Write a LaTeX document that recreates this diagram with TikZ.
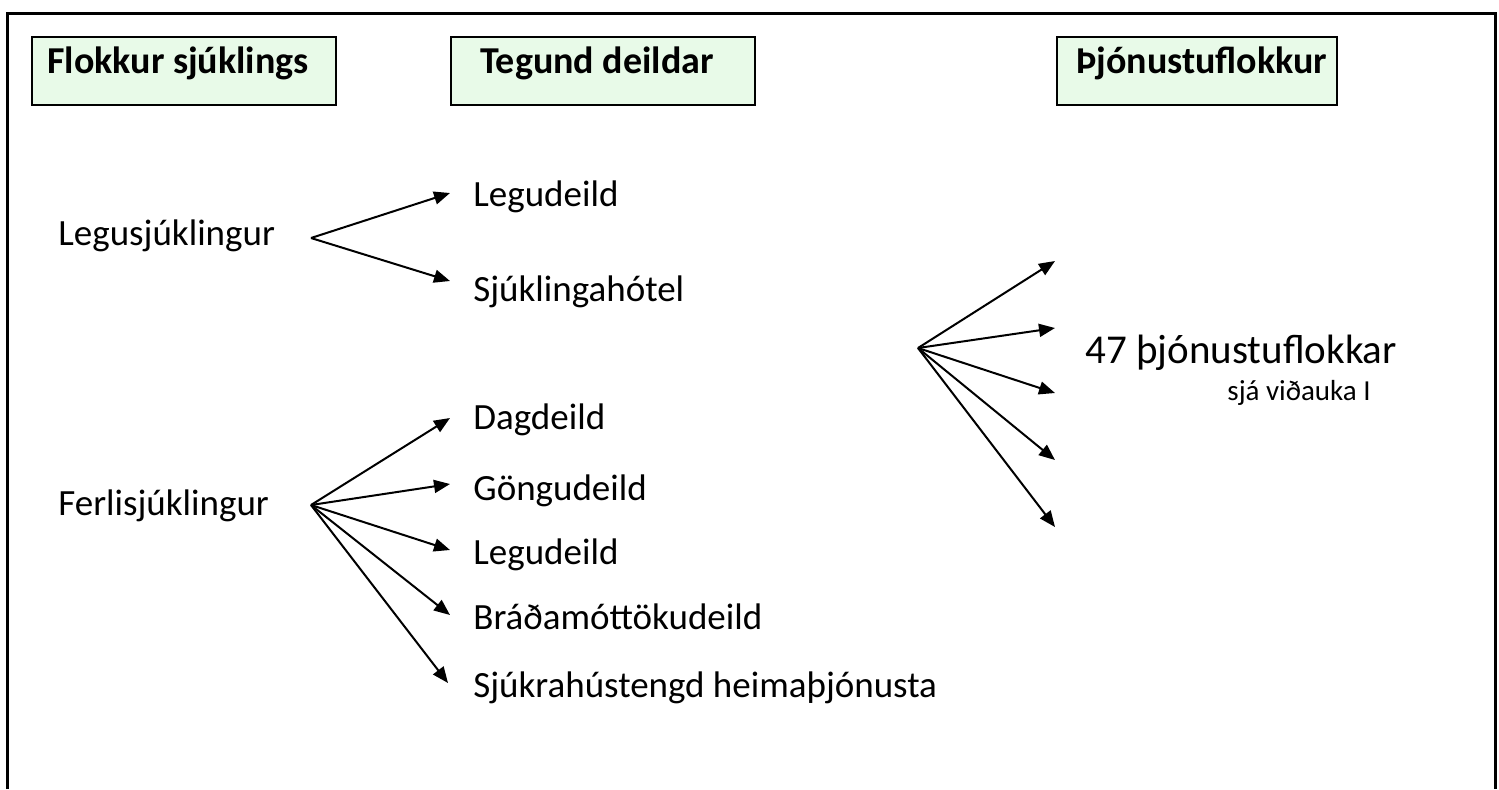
\documentclass[tikz,border=0pt]{standalone}
\usepackage{fontspec}
\setmainfont{Carlito}
\usetikzlibrary{arrows.meta}
\definecolor{boxgreen}{RGB}{232,250,232}
\tikzset{
  hdrbox/.style={draw=black, line width=1pt, fill=boxgreen, minimum height=34pt, minimum width=152pt, inner sep=0pt, anchor=north west},
  hdrtext/.style={anchor=base west, inner sep=0pt, font=\fontsize{19}{22}\selectfont\bfseries},
  lbl/.style={anchor=base west, inner sep=0pt, font=\fontsize{18.5}{22}\selectfont},
  big/.style={anchor=base west, inner sep=0pt, font=\fontsize{20.5}{24}\selectfont},
  small/.style={anchor=base west, inner sep=0pt, font=\fontsize{14.5}{17}\selectfont},
  arr/.style={line width=1pt, -{Triangle[length=8pt,width=6.5pt]}},
}
\begin{document}
\begin{tikzpicture}[x=0.5pt,y=-0.5pt]
\useasboundingbox (0,0) rectangle (1499,789);
% outer frame (open at bottom)
\draw[line width=1.5pt] (7,789) -- (7,13) -- (1495,13) -- (1495,789);
% header boxes
\node[hdrbox] (h1) at (31,36) {};
\node[hdrbox] (h2) at (450,36) {};
\node[hdrbox, minimum width=140pt] (h3) at (1056,36) {};
\node[hdrtext] (h1t) at (47,73) {Flokkur sjúklings};
\node[hdrtext] (h2t) at (480,73) {Tegund deildar};
\node[hdrtext] (h3t) at (1076,73) {Þjónustuflokkur};
% patient categories
\node[lbl] (legu) at (58,245) {Legusjúklingur};
\node[lbl] (ferl) at (58,515) {Ferlisjúklingur};
% department types
\node[lbl] (d1) at (473,206) {Legudeild};
\node[lbl] (d2) at (473,301) {Sjúklingahótel};
\node[lbl] (d3) at (473,429) {Dagdeild};
\node[lbl] (d4) at (473,500) {Göngudeild};
\node[lbl] (d5) at (473,564) {Legudeild};
\node[lbl] (d6) at (473,629) {Bráðamóttökudeild};
\node[lbl] (d7) at (473,697) {Sjúkrahústengd heimaþjónusta};
% service categories
\node[big] (s1) at (1085,363) {47 þjónustuflokkar};
\node[small] (s2) at (1227,400) {sjá viðauka I};
% fan vertices
\coordinate (vL) at (311,238);
\coordinate (vF) at (311,505);
\coordinate (vS) at (918,348);
% arrow tips
\coordinate (tL1) at (450,193);
\coordinate (tL2) at (450,281);
\coordinate (tF1) at (450,418);
\coordinate (tF2) at (450,484);
\coordinate (tF3) at (450,550);
\coordinate (tF4) at (450,615);
\coordinate (tF5) at (448,683);
\coordinate (tS1) at (1055,261);
\coordinate (tS2) at (1055,328);
\coordinate (tS3) at (1055,393);
\coordinate (tS4) at (1055,460);
\coordinate (tS5) at (1055,527);
% arrows
\foreach \t in {tL1,tL2} \draw[arr] (vL) -- (\t);
\foreach \t in {tF1,tF2,tF3,tF4,tF5} \draw[arr] (vF) -- (\t);
\foreach \t in {tS1,tS2,tS3,tS4,tS5} \draw[arr] (vS) -- (\t);
\end{tikzpicture}
\end{document}
